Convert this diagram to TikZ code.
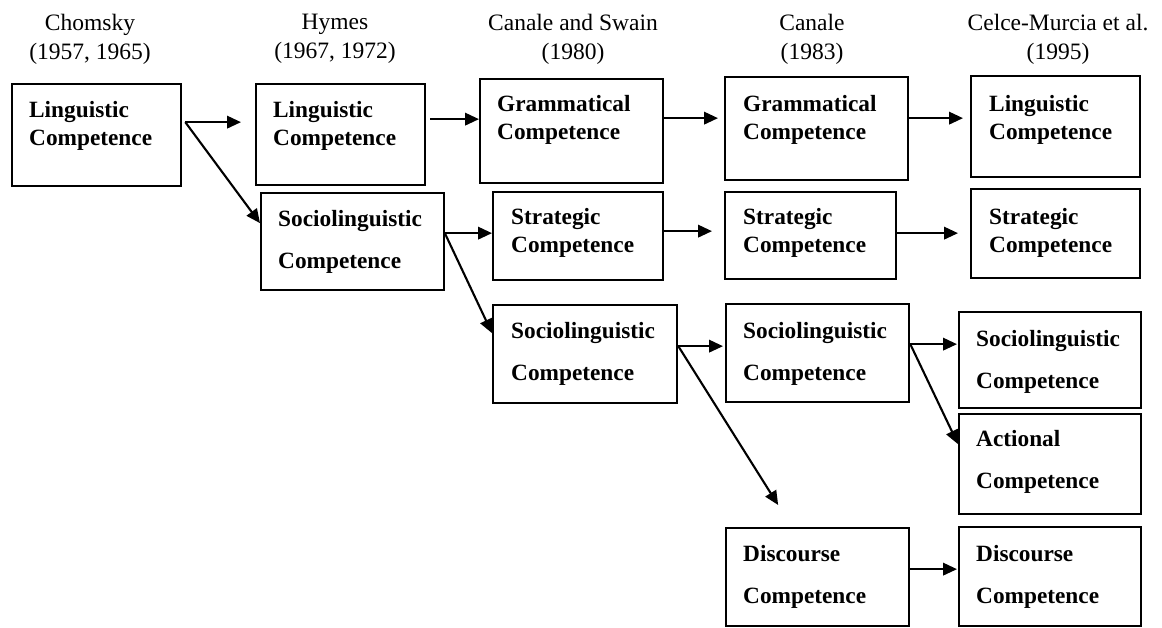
\documentclass[tikz,border=0pt]{standalone}
\usepackage{fontspec}
\setmainfont{Liberation Serif}
\usetikzlibrary{arrows.meta, positioning, calc}

\begin{document}
\begin{tikzpicture}[
      x=1pt, y=-1pt,
      box/.style={draw, line width=2.3pt, anchor=north west, inner sep=0pt},
      txt/.style={anchor=north west, align=left, inner sep=0pt, font=\bfseries\fontsize{23.3}{28}\selectfont},
      txtw/.style={txt, font=\bfseries\fontsize{23.3}{42}\selectfont},
      hd/.style={anchor=north, align=center, inner sep=0pt, font=\fontsize{23.5}{29}\selectfont},
      e/.style={line width=2.1pt, -{Triangle[length=14pt, width=12.5pt]}}
    ]
      \useasboundingbox (0,0) rectangle (1162,628);

      \node[hd] (h1) at (90,14) {Chomsky\\(1957, 1965)};
      \node[hd] (h2) at (335,14) {Hymes\\(1967, 1972)};
      \node[hd] (h3) at (573,14) {Canale and Swain\\(1980)};
      \node[hd] (h4) at (812,14) {Canale\\(1983)};
      \node[hd] (h5) at (1058,14) {Celce-Murcia et al.\\(1995)};

      \node[box, minimum width=169pt, minimum height=102pt] (chom) at (11,83) {};
      \node[box, minimum width=169pt, minimum height=101pt] (hlin) at (255,83) {};
      \node[box, minimum width=183pt, minimum height=97pt] (hsoc) at (260,192) {};
      \node[box, minimum width=183pt, minimum height=104pt] (sgra) at (479,78) {};
      \node[box, minimum width=170pt, minimum height=88pt] (sstr) at (492,191) {};
      \node[box, minimum width=184pt, minimum height=98pt] (ssoc) at (492,304) {};
      \node[box, minimum width=183pt, minimum height=103pt] (cgra) at (724,76) {};
      \node[box, minimum width=171pt, minimum height=87pt] (cstr) at (724,191) {};
      \node[box, minimum width=183pt, minimum height=98pt] (csoc) at (725,303) {};
      \node[box, minimum width=183pt, minimum height=98pt] (cdis) at (725,527) {};
      \node[box, minimum width=169pt, minimum height=101pt] (mlin) at (970,75) {};
      \node[box, minimum width=169pt, minimum height=89pt] (mstr) at (970,188) {};
      \node[box, minimum width=182pt, minimum height=96pt] (msoc) at (958,311) {};
      \node[box, minimum width=182pt, minimum height=100pt] (mact) at (958,413) {};
      \node[box, minimum width=182pt, minimum height=99pt] (mdis) at (958,526) {};

      \node[txt] (chom-t) at ([shift={(18pt,-18pt)}]chom.north west) {Linguistic\\Competence};
      \node[txt] (hlin-t) at ([shift={(18pt,-18pt)}]hlin.north west) {Linguistic\\Competence};
      \node[txtw] (hsoc-t) at ([shift={(18pt,-18pt)}]hsoc.north west) {Sociolinguistic\\Competence};
      \node[txt] (sgra-t) at ([shift={(18pt,-17pt)}]sgra.north west) {Grammatical\\Competence};
      \node[txt] (sstr-t) at ([shift={(19pt,-17pt)}]sstr.north west) {Strategic\\Competence};
      \node[txtw] (ssoc-t) at ([shift={(19pt,-18pt)}]ssoc.north west) {Sociolinguistic\\Competence};
      \node[txt] (cgra-t) at ([shift={(19pt,-19pt)}]cgra.north west) {Grammatical\\Competence};
      \node[txt] (cstr-t) at ([shift={(19pt,-17pt)}]cstr.north west) {Strategic\\Competence};
      \node[txtw] (csoc-t) at ([shift={(18pt,-19pt)}]csoc.north west) {Sociolinguistic\\Competence};
      \node[txtw] (cdis-t) at ([shift={(18pt,-18pt)}]cdis.north west) {Discourse\\Competence};
      \node[txt] (mlin-t) at ([shift={(19pt,-20pt)}]mlin.north west) {Linguistic\\Competence};
      \node[txt] (mstr-t) at ([shift={(19pt,-20pt)}]mstr.north west) {Strategic\\Competence};
      \node[txtw] (msoc-t) at ([shift={(18pt,-19pt)}]msoc.north west) {Sociolinguistic\\Competence};
      \node[txtw] (mact-t) at ([shift={(18pt,-17pt)}]mact.north west) {Actional\\Competence};
      \node[txtw] (mdis-t) at ([shift={(18pt,-19pt)}]mdis.north west) {Discourse\\Competence};

      \coordinate (cdis-in) at ([xshift=-39.5pt, yshift=22pt]cdis.north);

      \draw[e] ([xshift=3pt, yshift=13pt]chom.east) -- ([xshift=-14pt, yshift=12.5pt]hlin.west);
      \draw[e] ([xshift=3pt, yshift=13pt]chom.east) -- ([yshift=18.5pt]hsoc.west);
      \draw[e] ([xshift=4pt, yshift=15.5pt]hlin.east) -- ([yshift=12pt]sgra.west);
      \draw[e] ([yshift=8.5pt]hsoc.east) -- ([yshift=3pt]sstr.west);
      \draw[e] ([yshift=7.5pt]hsoc.east) -- ([yshift=21pt]ssoc.west);
      \draw[e] ([yshift=13pt]sgra.east) -- ([xshift=-6pt, yshift=10.5pt]cgra.west);
      \draw[e] ([yshift=5pt]sstr.east) -- ([xshift=-12pt, yshift=4.5pt]cstr.west);
      \draw[e] ([yshift=8pt]ssoc.east) -- ([xshift=-2pt, yshift=7pt]csoc.west);
      \draw[e] ([yshift=8pt]ssoc.east) -- (cdis-in);
      \draw[e] ([yshift=10.5pt]cgra.east) -- ([xshift=-7pt, yshift=8.5pt]mlin.west);
      \draw[e] ([yshift=2.5pt]cstr.east) -- ([xshift=-12pt, yshift=0.5pt]mstr.west);
      \draw[e] ([yshift=9pt]csoc.east) -- ([xshift=-1pt, yshift=16pt]msoc.west);
      \draw[e] ([yshift=9pt]csoc.east) -- ([yshift=20pt]mact.west);
      \draw[e] ([yshift=8pt]cdis.east) -- ([xshift=-1pt, yshift=7.5pt]mdis.west);
    \end{tikzpicture}
\end{document}
